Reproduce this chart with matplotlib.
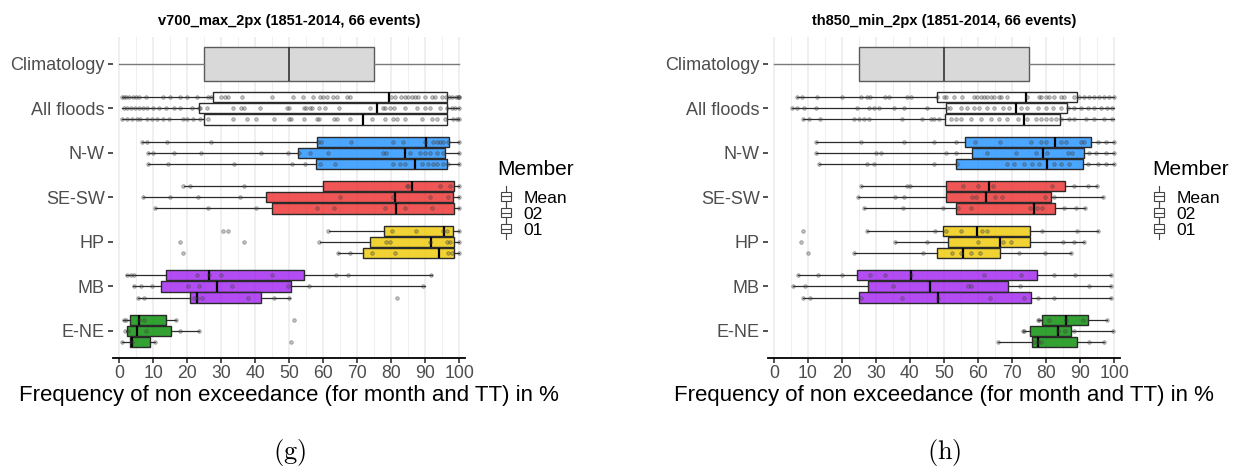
import matplotlib.pyplot as plt
from matplotlib.colors import to_rgba
from matplotlib.legend_handler import HandlerBase
from matplotlib.patches import Rectangle
from matplotlib.lines import Line2D

plt.rcParams['font.family'] = ['Liberation Sans', 'DejaVu Sans']
plt.rcParams['mathtext.fontset'] = 'cm'

categories = ['Climatology', 'All floods', 'N-W', 'SE-SW', 'HP', 'MB', 'E-NE']
members = ['Mean', '02', '01']
group_colors = ['white', '#1E90FF', '#EE2C2C', '#EEC900', '#A020F0', '#008B00']

# climatology box: whisker low, q1, median, q3, whisker high
clim_stats = [0, 25, 50, 75, 100]

# ---- panel (g): v700_max_2px ; order = category x (Mean, 02, 01)
v700_lo = [1, 1, 0.9, 6.7, 8.5, 8.5, 19, 7, 10.7, 61.7, 59.1, 64.5, 2.1, 4.2, 5.5, 1.3, 2.0, 1]
v700_q1 = [27.6, 23.6, 25, 58.2, 52.6, 58, 59.9, 43.3, 45, 78, 73.9, 71.6, 13.7, 12.4, 20.9, 3.2, 2.2, 3.2]
v700_med = [79.3, 75.9, 71.6, 90.2, 84.2, 86.9, 86.2, 81.1, 81.5, 95.5, 91.7, 94.2, 26.3, 28.7, 22.8, 6, 5.3, 3.9]
v700_q3 = [96.3, 96.3, 96.3, 97, 95.8, 96.5, 98.6, 98.2, 98.4, 98.3, 98.6, 98.6, 54.4, 50.5, 41.8, 13.9, 15.4, 9.1]
v700_hi = [100, 100, 100, 100, 100, 100, 100, 100, 100, 100, 100, 100, 92, 89.8, 50.3, 16.7, 23.6, 10.7]
v700_points = [
    [1, 1.5, 2, 3, 4, 5, 6, 8, 13, 15, 18, 20, 23, 26, 27, 30, 31, 32, 36, 45, 51, 54, 57, 59, 60, 61, 63, 64,
     67, 68, 80, 81, 83, 84, 85, 86, 87, 88, 90, 92, 93, 95, 96, 97, 98, 99, 99.5, 100, 100],
    [1.5, 2.2, 3.4, 4.7, 6, 7, 8.1, 9.9, 11.6, 13.7, 16, 18, 21.4, 23.5, 23.8, 25.8, 33.6, 35.8, 36.6, 41.5, 49.5,
     50.1, 54.4, 55, 56.2, 56.7, 58.9, 60.6, 64.7, 73.8, 77.7, 78.2, 79.7, 80.9, 84.1, 87.5, 89.8, 91.4, 94.4, 96.3,
     97.8, 98.8, 99.8],
    [0.9, 2.3, 3.7, 5.2, 6.2, 8.1, 9.6, 11.1, 13, 14.8, 18.7, 19.9, 21.7, 23.8, 26.1, 33.6, 37.6, 40.3, 45.6, 50.1,
     50.5, 54.4, 58.3, 58.9, 63.3, 64, 67.9, 74.5, 78.2, 80.6, 81.6, 84.1, 89, 91.9, 93.4, 95.9, 98.3, 99.3, 99.8],
    [6.7, 8.1, 14, 26.9, 58.6, 59.3, 68.1, 80.6, 83.6, 89.9, 92.4, 93.4, 94.3, 95.3, 96.8, 99.8],
    [8.4, 10.1, 16, 24.2, 41.7, 49.8, 52.9, 56.2, 61.3, 77.7, 78.4, 85.6, 88.5, 90, 91.4, 93.4, 95.3, 99.8],
    [8.4, 14.3, 33.9, 50.8, 54.7, 59.1, 63.5, 80.6, 82.6, 84.1, 89, 90.9, 92.4, 93.4, 95.3, 96.8, 99.8],
    [18.9, 20.9, 36.6, 84.5, 85, 94.3, 97.3, 99.8],
    [7, 15, 23.3, 35.6, 65, 80.6, 91.4, 96.8, 99.8],
    [10.7, 26, 40.3, 58.3, 63.3, 78.2, 84.2, 91.9, 99.8],
    [30.5, 32, 61.5, 80.3, 87.3, 95.3, 96.3, 99.8],
    [17.9, 36.8, 58.9, 78.4, 79.7, 91.4, 96.3, 97.3, 99.8],
    [18.7, 64.3, 67.9, 74.5, 81, 96.6, 97.8, 99.8],
    [2.3, 3.4, 4.5, 22.8, 26.3, 29.9, 44.9, 63.8, 67.2, 91.7],
    [4.4, 6.4, 9.6, 20.2, 23.5, 33.3, 49.8, 55.7, 89.4],
    [5.5, 7.4, 21.9, 22.8, 24.5, 37.8, 45.6, 50.1, 81.8],
    [1.5, 2.1, 6, 7.4, 16.7, 51.5],
    [1.8, 2.5, 7.8, 17.9, 23.5],
    [1, 3.7, 10.7, 50.4],
]

# ---- panel (h): th850_min_2px
th850_lo = [6.9, 5.4, 8.6, 12.5, 12.5, 13.4, 25.6, 24.6, 26.5, 27.5, 35.5, 23.5, 7, 5.6, 8.7, 77.5, 73.2, 65.8]
th850_q1 = [48, 50.6, 50.4, 56.3, 58.1, 53.6, 50.6, 50.6, 53.5, 49.7, 51.3, 48, 24.4, 27.6, 25, 78.9, 75.4, 75.9]
th850_med = [74, 71.3, 73.5, 82.5, 79.1, 80.3, 63.2, 62.2, 76.4, 59.7, 66.4, 55.6, 40.2, 46, 48.3, 85.9, 83.5, 77.7]
th850_q3 = [89.1, 86.1, 84.1, 93.2, 91.2, 90.9, 85.6, 81.5, 82.5, 75.2, 75.2, 66.4, 77.3, 68.8, 75.5, 92.3, 87.3, 89.1]
th850_hi = [100, 100, 100, 100, 100, 100, 94.9, 96.6, 91.4, 95.3, 91, 87.3, 99.1, 99.1, 99.1, 98, 99.7, 97.1]
th850_points = [
    [6.9, 8.3, 12.7, 20.1, 25.5, 27.5, 28.4, 32.8, 33.8, 39.2, 40.2, 48, 50, 50.5, 52.9, 55.4, 58.8, 59.8, 60.8,
     61.8, 62.7, 63.7, 64.7, 66.2, 66.7, 68.6, 74.5, 78, 78.4, 79.9, 80.9, 82.4, 84.3, 85.3, 88.2, 89.7, 91.2, 92.6,
     94.1, 95.6, 97.1, 98.5, 100],
    [5.4, 6.9, 8.8, 12.3, 24.5, 27.9, 29.4, 30.9, 35.3, 38.2, 45.1, 50.8, 51.8, 54.9, 56.9, 58.8, 60.3, 62.7, 64.7,
     67.2, 69.1, 72.5, 74.5, 77.5, 79.9, 81.9, 84.3, 86.3, 88.2, 90.2, 92.2, 94.1, 96.1, 98, 99.5],
    [8.6, 10.3, 13.7, 23.5, 25, 26.5, 27.9, 37.7, 43.6, 46.1, 47.1, 48.5, 52, 53.4, 54.9, 57.8, 60.8, 63.7, 66.2,
     68.6, 71.6, 74.5, 77, 78.4, 79.9, 81.4, 82.8, 84.3, 86.8, 88.2, 91.7, 94.1, 97.1, 99.5],
    [12.5, 25.5, 38.2, 47.1, 53.4, 59.1, 66.5, 75.5, 78.4, 79.9, 84.3, 85.8, 90.2, 91.2, 95.1, 97.5, 100],
    [12.5, 29.9, 31.4, 50.5, 53.4, 62.7, 71.3, 77, 80.4, 86.3, 87.7, 92.6, 94.6, 97.5, 100],
    [13.4, 27.5, 29.4, 47.1, 53.9, 68.6, 70.6, 73.5, 76, 77.9, 82.4, 84.3, 86.8, 92.2, 95.1, 97.5, 100],
    [25.6, 39.2, 40, 55.6, 60.1, 64.4, 81.7, 88.2, 92.2, 94.9],
    [24.6, 35.5, 38.2, 58.3, 59.4, 64.9, 66.9, 79.6, 82.4, 96.6],
    [26.5, 38, 49.8, 54.1, 57.8, 75.3, 77.2, 78.9, 85.3, 88.7, 91.4],
    [8.5, 27.5, 47.3, 50.7, 55.1, 61.3, 62.7, 78.9, 89.2, 95.3],
    [8.1, 35.5, 45.1, 60.1, 67.2, 69.8, 85.1, 88.2, 91],
    [10.1, 23.5, 43.8, 52.3, 54.9, 57.8, 60.5, 72.1, 79.7, 87.3],
    [7, 13, 20.1, 28.4, 32.8, 40.2, 61.8, 72.5, 82.2, 88.5, 99.1],
    [5.6, 9.1, 35, 57.1, 58, 72.3, 92.6, 99.1],
    [8.7, 10.6, 25.5, 37.7, 48.3, 63.5, 73.5, 77.7, 82.4, 99.1],
    [77.5, 77.9, 80.9, 85.9, 90.9, 98],
    [73.2, 73.5, 83.5, 85.5, 88.2, 99.7],
    [65.8, 76.5, 77.5, 78.4, 92.6, 97.1],
]


class BoxKey(HandlerBase):
    def create_artists(self, legend, orig, xd, yd, w, h, fs, trans):
        cx = -xd + w / 2
        cy = -yd + h / 2
        bw, bh = w * 0.8, h * 0.7
        vline = Line2D([cx, cx], [cy - h * 0.75, cy + h * 0.75], color='#444444', lw=0.8, transform=trans)
        box = Rectangle((cx - bw / 2, cy - bh / 2), bw, bh, fc='white', ec='#444444', lw=0.8, transform=trans)
        hline = Line2D([cx - bw / 2, cx + bw / 2], [cy, cy], color='#444444', lw=0.8, transform=trans)
        return [vline, box, hline]


def draw_panel(ax, title, lo, q1, med, q3, hi, points):
    ax.set_xlim(-1.8, 101.7)
    ax.set_ylim(0.4, 7.6)
    ax.set_xticks(range(0, 101, 10))
    ax.set_xticks(range(5, 100, 10), minor=True)
    ax.grid(axis='x', which='major', color='#EBEBEB', lw=1.1)
    ax.grid(axis='x', which='minor', color='#EFEFEF', lw=0.7)
    ax.set_axisbelow(True)

    ypos = list(range(len(categories), 0, -1))
    # climatology
    ax.bxp([dict(whislo=clim_stats[0], q1=clim_stats[1], med=clim_stats[2], q3=clim_stats[3],
                 whishi=clim_stats[4], fliers=[])],
           positions=[ypos[0]], widths=0.76, orientation='horizontal', patch_artist=True,
           showcaps=False, showfliers=False,
           boxprops=dict(facecolor='#D9D9D9', edgecolor='#5A5A5A', lw=1.0),
           medianprops=dict(color='#333333', lw=1.2),
           whiskerprops=dict(color='#7A7A7A', lw=1.0))

    offsets = [0.25, 0.0, -0.25]
    for g in range(len(categories) - 1):
        for m in range(len(members)):
            i = g * 3 + m
            y = ypos[g + 1] + offsets[m]
            ax.bxp([dict(whislo=lo[i], q1=q1[i], med=med[i], q3=q3[i], whishi=hi[i], fliers=[])],
                   positions=[y], widths=0.23, orientation='horizontal', patch_artist=True,
                   showcaps=False, showfliers=False,
                   boxprops=dict(facecolor=to_rgba(group_colors[g], 0.8), edgecolor='#2A2A2A', lw=1.0),
                   medianprops=dict(color='black', lw=1.6),
                   whiskerprops=dict(color='#2A2A2A', lw=0.9))
            ax.plot(points[i], [y] * len(points[i]), 'o', ms=2.6, mfc=(0.3, 0.3, 0.3, 0.35),
                    mec=(0.2, 0.2, 0.2, 0.45), mew=0.5, ls='none', zorder=5)

    ax.set_yticks(ypos)
    ax.set_yticklabels(categories)
    for s in ['top', 'right', 'left']:
        ax.spines[s].set_visible(False)
    ax.spines['bottom'].set_linewidth(1.3)
    ax.spines['bottom'].set_color('black')
    ax.tick_params(axis='y', length=3.8, width=1.2, color='#333333', labelsize=13,
                   labelcolor='#4D4D4D', pad=2)
    ax.tick_params(axis='x', which='major', length=3.8, width=1.2, color='#333333', labelsize=12.7,
                   labelcolor='#4D4D4D', pad=1.5)
    ax.tick_params(axis='x', which='minor', length=0)
    ax.set_xlabel('Frequency of non exceedance (for month and TT) in %', fontsize=16, color='black', labelpad=2)
    ax.set_title(title, fontsize=10.5, fontweight='bold', pad=9)


fig = plt.figure(figsize=(12.44, 4.72), dpi=100)
ax1 = fig.add_axes([0.0908, 0.2422, 0.2830, 0.6794])
ax2 = fig.add_axes([0.6171, 0.2422, 0.2832, 0.6794])

draw_panel(ax1, 'v700_max_2px (1851-2014, 66 events)', v700_lo, v700_q1, v700_med, v700_q3, v700_hi, v700_points)
draw_panel(ax2, 'th850_min_2px (1851-2014, 66 events)', th850_lo, th850_q1, th850_med, th850_q3, th850_hi,
           th850_points)

for tx, lx in [(497, 0.3945), (1152, 0.9195)]:
    fig.text(tx / 1244, 1 - 170 / 472, 'Member', fontsize=15, ha='left', va='center')
    handles = [Rectangle((0, 0), 1, 1) for _ in members]
    fig.legend(handles, members, loc='upper left', bbox_to_anchor=(lx, 1 - 181 / 472),
               frameon=False, fontsize=12.6, handlelength=0.7, handleheight=0.8,
               handletextpad=0.65, labelspacing=0.02, borderpad=0,
               handler_map={Rectangle: BoxKey()})

fig.text(290 / 1244, 1 - 452 / 472, r'$\mathrm{(g)}$', fontsize=19, ha='center', va='center')
fig.text(944 / 1244, 1 - 452 / 472, r'$\mathrm{(h)}$', fontsize=19, ha='center', va='center')

fig.savefig('out.png', dpi=100)
